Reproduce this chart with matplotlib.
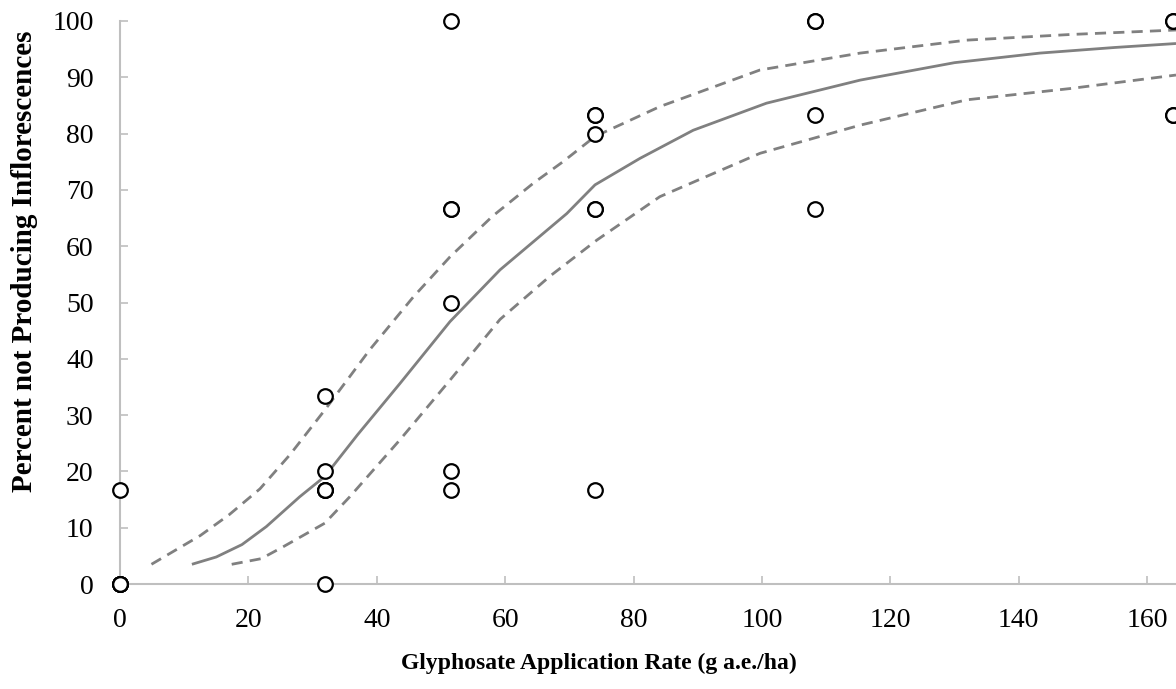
import matplotlib
matplotlib.use('Agg')
import matplotlib.pyplot as plt

# observed points
rate = [0, 0, 0, 0, 0, 0,
        32, 32, 32, 32, 32, 32,
        51.5, 51.5, 51.5, 51.5, 51.5, 51.5,
        74, 74, 74, 74, 74, 74,
        108.3, 108.3, 108.3, 108.3,
        164, 164, 164, 164]
pct = [0, 0, 0, 0, 0, 16.67,
       0, 16.67, 16.67, 20, 33.33, 16.67,
       100, 66.67, 66.67, 50, 20, 16.67,
       83.33, 83.33, 80, 66.67, 66.67, 16.67,
       100, 100, 83.33, 66.67,
       100, 100, 83.33, 83.33]

# fitted curve and confidence bands
fit_x = [11.2, 15, 19, 22.8, 28.0, 31.9, 37, 43.6, 51.4, 59.2, 69.6, 74.0, 81.0, 89.3,
         100.7, 115.3, 130, 143.3, 155, 164.5]
fit_y = [3.5, 4.8, 7.0, 10.2, 15.5, 19.1, 26.5, 35.6, 46.6, 55.8, 65.8, 70.9, 75.6, 80.6,
         85.4, 89.5, 92.6, 94.3, 95.3, 96.0]
up_x = [4.9, 12.5, 17, 21.8, 26.5, 31.9, 38.9, 45.7, 51.4, 58, 64.4, 69.0, 74.0, 84.1,
        99.7, 115.3, 131.9, 148, 164.5]
up_y = [3.5, 8.6, 12.3, 16.9, 23.0, 30.9, 41.6, 51.0, 58.1, 65.3, 71.2, 75.0, 79.5, 84.8,
        91.3, 94.3, 96.6, 97.6, 98.4]
lo_x = [17.4, 22, 25.4, 31.9, 35.8, 43.6, 51.4, 59.2, 67.0, 74.3, 84.1, 99.7,
        115.3, 131.9, 148, 164.5]
lo_y = [3.5, 4.5, 6.6, 10.8, 15.5, 25.6, 36.2, 47.0, 54.7, 61.1, 68.8, 76.5,
        81.5, 86.0, 88.0, 90.4]

plt.rcParams['font.family'] = ['Liberation Serif', 'DejaVu Serif']

fig = plt.figure(figsize=(11.76, 6.89), dpi=100)
ax = fig.add_axes([120 / 1176, 1 - 584 / 689, 1 - 120 / 1176, (584 - 21) / 689])

grey = '#808080'
ax.plot(fit_x, fit_y, color=grey, lw=2, solid_capstyle='butt')
ax.plot(up_x, up_y, color=grey, lw=2, ls=(0, (4, 2.6)))
ax.plot(lo_x, lo_y, color=grey, lw=2, ls=(0, (4, 2.6)))
ax.plot(rate, pct, ls='none', marker='o', ms=10.5, mfc='white', mec='black', mew=1.6,
        clip_on=False, zorder=5)

ax.set_xlim(0, 164.5)
ax.set_ylim(0, 100)
ax.set_xticks(range(0, 161, 20))
ax.set_yticks(range(0, 101, 10))

for s in ['top', 'right']:
    ax.spines[s].set_visible(False)
for s in ['left', 'bottom']:
    ax.spines[s].set_color('#bfbfbf')
    ax.spines[s].set_linewidth(1.5)

ax.tick_params(direction='in', length=6, width=1.2, color='#bfbfbf', labelsize=20, pad=17)
ax.tick_params(axis='y', pad=19)

ax.set_xlabel('Glyphosate Application Rate (g a.e./ha)', fontsize=17, fontweight='bold')
ax.xaxis.set_label_coords(0.4536, -0.1226)
ax.set_ylabel('Percent not Producing Inflorescences', fontsize=21, fontweight='bold')
ax.yaxis.set_label_coords(-0.0777, 0.574)

fig.savefig('out.png', dpi=100)
